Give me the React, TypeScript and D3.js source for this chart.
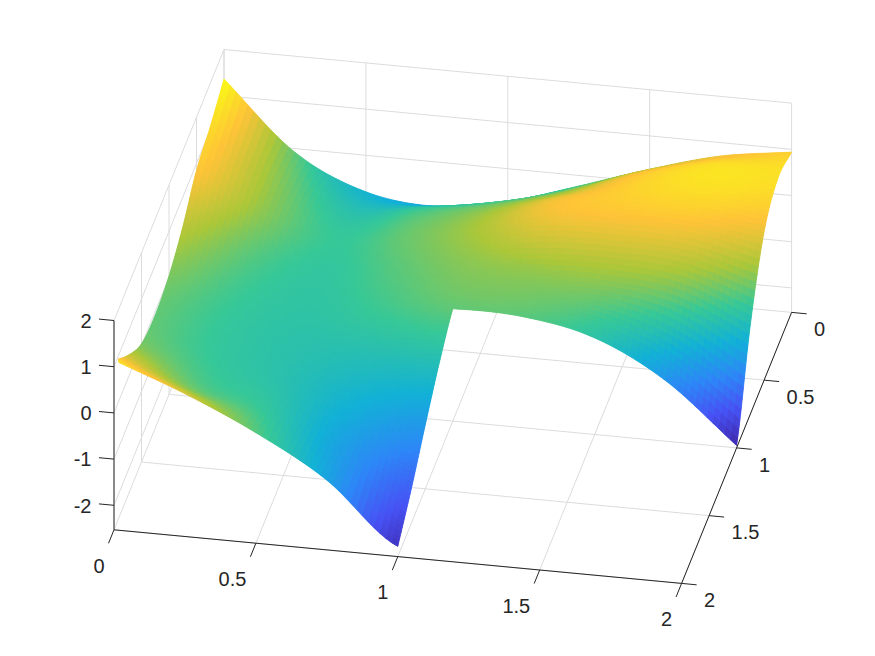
import React from "react";
import * as d3 from "d3";

// Axis values
const xTicks = [0, 0.5, 1, 1.5, 2];
const yTicks = [0, 0.5, 1, 1.5, 2];
const zTicks = [-2, -1, 0, 1, 2];
const zLow = -2.53;
const zHigh = 2;

// Surface heights, on a 0.25 grid. Rows are y, columns x.
// Rows from y = 1.25 on stop at x = 1 (the domain is L-shaped).
const rowY000 = [1.36, -0.08, -0.79, -0.96, -0.71, -0.23, 0.28, 0.71, 0.94];
const rowY025 = [1.06, 0.07, -0.48, -0.28, -0.03, 0.34, 0.86, 1.13, 1.1];
const rowY050 = [0.85, 0.09, -0.3, -0.05, 0.27, 0.77, 0.87, 0.87, 0.68];
const rowY075 = [0.36, -0.15, -0.35, -0.13, 0.09, 0.17, 0.19, 0.02, -0.6];
const rowY100 = [0.035, -0.28, -0.4, -0.26, -0.1, -0.13, -0.44, -1.22, -2.48];
const rowY125 = [-0.08, -0.33, -0.46, -0.54, -0.56];
const rowY150 = [0.03, -0.29, -0.48, -0.82, -1.145];
const rowY175 = [0.51, -0.08, -0.36, -1.05, -1.775];
const rowY200 = [1.14, 0.56, -0.14, -1.02, -2.31];
const surfaceRows = [rowY000, rowY025, rowY050, rowY075, rowY100, rowY125, rowY150, rowY175, rowY200];
const gridStep = 0.25;

// Parula colormap anchors
const parula = ["#3e26a8", "#4752f4", "#2d87f7", "#12b1d6", "#37c897", "#abc739", "#fec338", "#f9fb14"];
const colorMin = -2.48;
const colorMax = 1.36;

// Oblique projection: one scale per data axis and screen axis
const sxFromX = d3.scaleLinear().domain([0, 2]).range([0, 567.6]);
const sxFromY = d3.scaleLinear().domain([0, 2]).range([0, -110]);
const syFromX = d3.scaleLinear().domain([0, 2]).range([0, 53.6]);
const syFromY = d3.scaleLinear().domain([0, 2]).range([0, 271]);
const syFromZ = d3.scaleLinear().domain([zLow, zHigh]).range([0, -209.3]);
const originX = 224;
const originY = 258.8;

type P = [number, number];
const project = (x: number, y: number, z: number): P => [
  originX + sxFromX(x) + sxFromY(y),
  originY + syFromX(x) + syFromY(y) + syFromZ(z),
];

const colorOf = d3
  .scaleLinear<string>()
  .domain(parula.map((_, i) => colorMin + ((colorMax - colorMin) * i) / (parula.length - 1)))
  .range(parula)
  .interpolate(d3.interpolateRgb)
  .clamp(true);

// Node lookup with extrapolation outside the domain, for smooth patch evaluation
const node = (i: number, j: number): number => {
  if (i < 0) return 2 * node(0, j) - node(1, j);
  if (i > 8) return 2 * node(8, j) - node(7, j);
  if (j < 0) return 2 * node(i, 0) - node(i, 1);
  if (j > 8) return 2 * node(i, 8) - node(i, 7);
  if (i > 4 && j > 4) return node(i, 4) + node(4, j) - node(4, 4);
  return surfaceRows[j][i];
};
const spline = (a: number, b: number, c: number, d: number, t: number) =>
  0.5 * (2 * b + (c - a) * t + (2 * a - 5 * b + 4 * c - d) * t * t + (3 * b - a - 3 * c + d) * t * t * t);
const heightAt = (i: number, j: number, u: number, v: number) => {
  const across = [-1, 0, 1, 2].map((dj) =>
    spline(node(i - 1, j + dj), node(i, j + dj), node(i + 1, j + dj), node(i + 2, j + dj), u)
  );
  return spline(across[0], across[1], across[2], across[3], v);
};

const SUB = 12;
type Facet = { d: string; fill: string };
const buildFacets = (): Facet[] => {
  const facets: Facet[] = [];
  const poly = d3.line();
  for (let j = 0; j < surfaceRows.length - 1; j++) {
    const columns = j < 4 ? 8 : 4;
    for (let s = 0; s < SUB; s++) {
      for (let i = 0; i < columns; i++) {
        for (let r = 0; r < SUB; r++) {
          const corners = [
            [r, s],
            [r + 1, s],
            [r + 1, s + 1],
            [r, s + 1],
          ].map(([a, b]) => {
            const u = a / SUB;
            const v = b / SUB;
            const z = heightAt(i, j, u, v);
            return { p: project((i + u) * gridStep, (j + v) * gridStep, z), z };
          });
          facets.push({
            d: poly(corners.map((c) => c.p))! + "Z",
            fill: colorOf(d3.mean(corners, (c) => c.z)!),
          });
        }
      }
    }
  }
  return facets;
};

const fontFamily = "'Liberation Sans', Arial, Helvetica, sans-serif";
const gridColor = "#dcdcdc";
const axisColor = "#262626";

const Seg = ({ a, b, color }: { a: P; b: P; color: string }) => (
  <line x1={a[0]} y1={a[1]} x2={b[0]} y2={b[1]} stroke={color} strokeWidth={1} />
);

export default function App() {
  const facets = buildFacets();
  return (
    <svg width={875} height={656} style={{ position: "absolute", left: 0, top: 0, background: "#fff" }}>
      <defs>
        <clipPath id="tipClip">
          <rect x={118.5} y={0} width={760} height={656} />
        </clipPath>
      </defs>
      <g>
        {xTicks.map((x) => (
          <g key={`gx${x}`}>
            <Seg a={project(x, 0, zLow)} b={project(x, 2, zLow)} color={gridColor} />
            <Seg a={project(x, 0, zLow)} b={project(x, 0, zHigh)} color={gridColor} />
          </g>
        ))}
        {yTicks.map((y) => (
          <g key={`gy${y}`}>
            <Seg a={project(0, y, zLow)} b={project(2, y, zLow)} color={gridColor} />
            <Seg a={project(0, y, zLow)} b={project(0, y, zHigh)} color={gridColor} />
          </g>
        ))}
        {zTicks.map((z) => (
          <g key={`gz${z}`}>
            <Seg a={project(0, 0, z)} b={project(2, 0, z)} color={gridColor} />
            <Seg a={project(0, 0, z)} b={project(0, 2, z)} color={gridColor} />
          </g>
        ))}
      </g>
      <g clipPath="url(#tipClip)">
        {/* first pass closes the seams between facets, second pass lays clean fills over it */}
        {facets.map((f, k) => (
          <path key={`s${k}`} d={f.d} fill={f.fill} stroke={f.fill} strokeWidth={0.7} strokeLinejoin="round" />
        ))}
        {facets.map((f, k) => (
          <path key={`f${k}`} d={f.d} fill={f.fill} />
        ))}
      </g>
      <g>
        <Seg a={project(0, 2, zLow)} b={project(2, 2, zLow)} color={axisColor} />
        <Seg a={project(2, 0, zLow)} b={project(2, 2, zLow)} color={axisColor} />
        <Seg a={project(0, 2, zLow)} b={project(0, 2, zHigh)} color={axisColor} />
        {xTicks.map((x) => (
          <Seg key={`tx${x}`} a={project(x, 2, zLow)} b={project(x, 2.1, zLow)} color={axisColor} />
        ))}
        {yTicks.map((y) => (
          <Seg key={`ty${y}`} a={project(2, y, zLow)} b={project(2.053, y, zLow)} color={axisColor} />
        ))}
        {zTicks.map((z) => (
          <Seg key={`tz${z}`} a={project(0, 2, z)} b={project(-0.053, 2, z)} color={axisColor} />
        ))}
      </g>
      <g fontFamily={fontFamily} fontSize={20} fill={axisColor}>
        {xTicks.map((x) => {
          const [px, py] = project(x, 2, zLow);
          return (
            <text key={`lx${x}`} x={px - 9.5} y={py + 42.7} textAnchor="end">
              {x}
            </text>
          );
        })}
        {yTicks.map((y) => {
          const [px, py] = project(2, y, zLow);
          return (
            <text key={`ly${y}`} x={px + 22.5} y={py + 23.7} textAnchor="start">
              {y}
            </text>
          );
        })}
        {zTicks.map((z) => {
          const [, py] = project(0, 2, z);
          return (
            <text key={`lz${z}`} x={91.5} y={py + 7.2} textAnchor="end">
              {z}
            </text>
          );
        })}
      </g>
    </svg>
  );
}
